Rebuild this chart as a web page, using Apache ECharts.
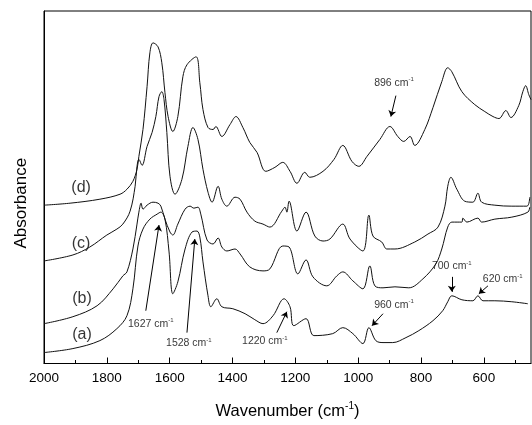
<!DOCTYPE html>
<html>
<head>
<meta charset="utf-8"/>
<title>FTIR spectra (a)-(d)</title>
<style type="text/css">body,html{width:100%;height:100%;margin:0;background:#fff}#chart{width:532px;height:425px}</style>
<script src="https://cdn.jsdelivr.net/npm/echarts@6/dist/echarts.min.js"></script>
</head>
<body>
<div id="chart"></div>
<script>
	// tick labels of the wavenumber axis
	var majorTicks = [2000, 1800, 1600, 1400, 1200, 1000, 800, 600];
	var minorTicks = [1900, 1700, 1500, 1300, 1100, 900, 700, 500];

	// spectra: [wavenumber, absorbance (a.u.)]
	var specD = [[2000,159],[1917,161],[1822,165],[1758,170],[1736,175],[1717,183],[1704,195],[1698,208],[1685,235],[1672,278],[1663,312],[1653,322],[1637,318],[1625,302],[1615,272],[1605,248],[1590,233],[1574,248],[1558,288],[1545,300],[1516,308],[1504,282],[1494,255],[1478,237],[1462,235],[1453,238],[1434,228],[1408,240],[1389,248],[1367,237],[1345,222],[1322,212],[1294,193],[1265,197],[1240,202],[1217,193],[1195,181],[1170,192],[1154,187],[1112,193],[1077,205],[1049,219],[1020,203],[998,198],[972,208],[931,225],[899,238],[874,228],[855,223],[835,228],[820,219],[788,235],[762,257],[734,283],[715,297],[702,293],[670,273],[629,260],[597,253],[571,248],[552,246],[530,254],[514,247],[489,259],[476,273],[467,279],[457,270],[450,265]];
	var specC = [[2000,103],[1908,109],[1854,117],[1800,129],[1768,135],[1749,140],[1726,153],[1710,178],[1704,198],[1698,205],[1688,199],[1672,218],[1656,232],[1644,248],[1634,268],[1625,273],[1618,265],[1609,232],[1599,188],[1583,170],[1561,185],[1542,218],[1526,237],[1510,225],[1494,195],[1478,172],[1465,162],[1446,178],[1434,165],[1418,158],[1392,167],[1376,165],[1354,152],[1329,143],[1303,140],[1281,137],[1243,153],[1233,157],[1227,152],[1220,163],[1195,133],[1166,152],[1138,128],[1112,123],[1090,125],[1049,140],[1026,125],[985,113],[966,149],[953,128],[925,122],[909,115],[883,115],[820,122],[778,130],[746,137],[724,158],[715,178],[705,187],[686,175],[661,163],[635,162],[619,171],[607,162],[565,159],[511,158],[463,158],[454,167]];
	var specB = [[2000,40],[1908,47],[1831,58],[1780,75],[1749,88],[1736,92],[1717,115],[1704,140],[1698,152],[1691,161],[1685,155],[1672,159],[1653,162],[1637,161],[1628,158],[1615,145],[1599,132],[1590,129],[1574,140],[1551,155],[1535,158],[1523,156],[1510,157],[1501,150],[1481,124],[1462,120],[1446,126],[1434,117],[1418,113],[1392,115],[1376,110],[1345,97],[1303,93],[1281,95],[1240,118],[1220,117],[1192,90],[1166,104],[1144,87],[1100,78],[1068,88],[1049,92],[1017,83],[985,75],[963,98],[947,78],[921,76],[883,77],[839,76],[794,85],[753,100],[734,115],[715,137],[702,142],[670,142],[667,146],[654,142],[619,146],[607,142],[565,145],[511,147],[460,152],[454,157]];
	var specA = [[2000,11],[1908,15],[1822,23],[1768,35],[1736,48],[1717,75],[1701,118],[1685,135],[1663,145],[1640,150],[1628,152],[1615,145],[1602,112],[1590,70],[1574,82],[1551,115],[1529,132],[1513,133],[1504,127],[1494,102],[1478,68],[1469,57],[1450,65],[1434,57],[1399,55],[1360,50],[1329,44],[1303,40],[1271,48],[1236,65],[1217,57],[1205,38],[1166,45],[1141,28],[1081,30],[1049,36],[1017,30],[985,20],[966,36],[944,23],[921,21],[890,21],[848,26],[807,33],[762,43],[731,53],[715,62],[702,68],[670,64],[635,63],[619,68],[603,63],[565,63],[511,62],[460,60]];

	// names of the traces and the band notes
	var traceNames = ['(a)', '(b)', '(c)', '(d)'];
	var bandNotes = ['1627', '1528', '1220', '960', '700', '620', '896'];

	var myChart = echarts.init(document.getElementById('chart'), null, {renderer: 'canvas'});
	var ink = '#000';
	var font = 'Liberation Sans, Arial, sans-serif';

	function curve(name, data) {
		return {
			name: name, type: 'line', data: data, xAxisIndex: 0,
			smooth: 0.35, showSymbol: false, symbol: 'none',
			lineStyle: {color: '#111', width: 1}
		};
	}

	// where the notes and trace names sit, in wavenumber / absorbance units
	var notePos = [[1660, 40], [1539, 20], [1297, 22], [886, 59], [702, 98], [540, 85], [886, 282]];
	var namePos = [[1879, 29], [1879, 65], [1882, 120], [1882, 177]];
	var arrows = [
		[[1676, 53], [1634, 139]],
		[[1545, 31], [1520, 125]],
		[[1259, 31], [1227, 52]],
		[[921, 50], [956, 38]],
		[[702, 87], [702, 72]],
		[[587, 78], [616, 70]],
		[[880, 269], [896, 248]]
	];

	var noteData = bandNotes.map(function (t, i) {
		return {value: notePos[i], label: {formatter: '{n|' + t + ' cm}{s|-1}'}};
	});
	var nameData = traceNames.map(function (t, i) {
		return {value: namePos[i], label: {formatter: '{m|' + t + '}'}};
	});

	var option = {
		animation: false,
		backgroundColor: '#fff',
		grid: {left: 44, right: 1, top: 11, bottom: 60, show: true, borderColor: ink, borderWidth: 1, backgroundColor: 'transparent'},
		xAxis: [{
			type: 'value', min: 450, max: 2000, inverse: true,
			name: '{t|Wavenumber (cm}{u|-1}{t|)}', nameLocation: 'middle', nameGap: 38,
			nameTextStyle: {rich: {
				t: {fontFamily: font, fontSize: 16.5, color: ink, lineHeight: 20},
				u: {fontFamily: font, fontSize: 10, color: ink, verticalAlign: 'top', lineHeight: 20}
			}},
			axisLine: {show: true, lineStyle: {color: ink}},
			axisTick: {show: true, inside: true, length: 6, customValues: majorTicks, lineStyle: {color: ink}},
			axisLabel: {customValues: majorTicks, margin: 8, fontFamily: font, fontSize: 13.5, color: ink,
				formatter: function (v) { return String(v); }},
			splitLine: {show: false}
		}, {
			type: 'value', min: 450, max: 2000, inverse: true, position: 'bottom', gridIndex: 0,
			axisLine: {show: false},
			axisTick: {show: true, inside: true, length: 3.5, customValues: minorTicks, lineStyle: {color: ink}},
			axisLabel: {show: false},
			splitLine: {show: false}
		}],
		yAxis: {
			type: 'value', min: 0, max: 354,
			name: 'Absorbance', nameLocation: 'middle', nameGap: 14,
			nameTextStyle: {fontFamily: font, fontSize: 17, color: ink, padding: [0, 32, 0, 0]},
			axisLine: {show: true, lineStyle: {color: ink}},
			axisTick: {show: false}, axisLabel: {show: false}, splitLine: {show: false}
		},
		series: [
			curve('a', specA),
			curve('b', specB),
			curve('c', specC),
			curve('d', specD),
			{
				name: 'arrows', type: 'line', data: [], xAxisIndex: 0,
				markLine: {
					silent: true, symbol: ['none', 'arrow'], symbolSize: 6,
					lineStyle: {color: ink, width: 1, type: 'solid'},
					label: {show: false},
					data: arrows.map(function (a) { return [{coord: a[0]}, {coord: a[1]}]; })
				}
			},
			{
				name: 'notes', type: 'scatter', symbolSize: 0, xAxisIndex: 0, data: noteData,
				label: {show: true, position: 'inside', rich: {
					n: {fontFamily: font, fontSize: 10.5, color: ink, lineHeight: 12},
					s: {fontFamily: font, fontSize: 6, color: ink, verticalAlign: 'top', lineHeight: 12}
				}}
			},
			{
				name: 'names', type: 'scatter', symbolSize: 0, xAxisIndex: 0, data: nameData,
				label: {show: true, position: 'inside', rich: {
					m: {fontFamily: font, fontSize: 16, color: ink}
				}}
			}
		]
	};
	myChart.setOption(option);
</script>
</body>
</html>
